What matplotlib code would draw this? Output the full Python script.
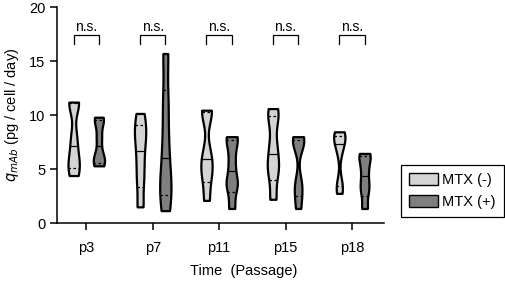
import numpy as np
import matplotlib
matplotlib.use("Agg")
import matplotlib.pyplot as plt
from matplotlib.patches import Patch

plt.rcParams['font.family'] = ['Liberation Sans', 'DejaVu Sans']
plt.rcParams['font.size'] = 10

# passages and replicate values (pg / cell / day)
passages = ['p3', 'p7', 'p11', 'p15', 'p18']
mtx_minus = [
    [4.4, 5.28, 6.3, 8.0, 11.07, 11.2],
    [1.5, 3.9, 5.8, 7.6, 8.71, 10.15],
    [2.1, 4.33, 5.3, 6.5, 10.25, 10.45],
    [2.2, 4.6, 5.6, 7.2, 9.67, 10.6],
    [2.75, 3.68, 6.7, 7.9, 7.92, 8.45],
]
mtx_plus = [
    [5.3, 5.7, 6.4, 7.9, 9.4, 9.8],
    [1.15, 3.08, 4.5, 7.5, 11.17, 15.7],
    [1.35, 3.42, 3.9, 5.7, 7.6, 8.0],
    [1.35, 2.88, 3.8, 7.4, 7.6, 8.0],
    [1.35, 2.88, 3.8, 5.0, 6.12, 6.45],
]
sig_labels = ['n.s.', 'n.s.', 'n.s.', 'n.s.', 'n.s.']

light = '#d4d4d4'
dark = '#7f7f7f'


def violin(ax, vals, xc, color, halfw=0.085, bwf=0.35):
    vals = np.asarray(vals, dtype=float)
    bw = bwf * vals.std(ddof=1)
    y = np.linspace(vals.min(), vals.max(), 200)
    dens = np.exp(-0.5 * ((y[:, None] - vals[None, :]) / bw) ** 2).sum(axis=1)
    w = dens / dens.max() * halfw
    ax.fill_betweenx(y, xc - w, xc + w, facecolor=color, edgecolor='black',
                     linewidth=1.6, zorder=3)
    q1, med, q3 = np.percentile(vals, [25, 50, 75], method='weibull')
    for q, ls in [(q1, (0, (2, 2))), (med, '-'), (q3, (0, (2, 2)))]:
        wq = np.interp(q, y, w)
        ax.plot([xc - wq, xc + wq], [q, q], color='black', lw=0.9, ls=ls, zorder=4)


fig = plt.figure(figsize=(5.05, 2.82), dpi=100)
ax = fig.add_axes([0.113, 0.209, 0.647, 0.766])

off = 0.19
for i in range(len(passages)):
    violin(ax, mtx_minus[i], i - off, light)
    violin(ax, mtx_plus[i], i + off, dark)
    # significance bracket
    ax.plot([i - off, i - off, i + off, i + off], [16.6, 17.4, 17.4, 16.6],
            color='black', lw=0.9, solid_joinstyle='miter')
    ax.text(i, 17.55, sig_labels[i], ha='center', va='bottom', fontsize=10)

ax.set_xlim(-0.44, 4.48)
ax.set_ylim(0, 20)
ax.set_yticks([0, 5, 10, 15, 20])
ax.set_xticks(range(len(passages)))
ax.set_xticklabels(passages)
for s in ['top', 'right']:
    ax.spines[s].set_visible(False)
for s in ['left', 'bottom']:
    ax.spines[s].set_linewidth(1.1)
ax.tick_params(width=1.1, length=5, labelsize=10.5)
ax.tick_params(axis='x', pad=8)

ax.set_ylabel(r'$q_{mAb}$ (pg / cell / day)', fontsize=10.5, labelpad=6)
ax.set_xlabel('Time  (Passage)', fontsize=10.5)
ax.xaxis.set_label_coords(0.572, -0.19)

handles = [Patch(facecolor=light, edgecolor='black', lw=1.0, label='MTX (-)'),
           Patch(facecolor=dark, edgecolor='black', lw=1.0, label='MTX (+)')]
leg = fig.legend(handles=handles, loc='center',
                 bbox_to_anchor=(0.796, 0.216, 0.2, 0.213),
                 fancybox=False, edgecolor='black', framealpha=1,
                 handlelength=1.95, handleheight=0.87, handletextpad=0.3,
                 borderpad=0.6, labelspacing=0.5, fontsize=10.5)
leg.get_frame().set_linewidth(0.9)

fig.savefig('out.png', dpi=100)
